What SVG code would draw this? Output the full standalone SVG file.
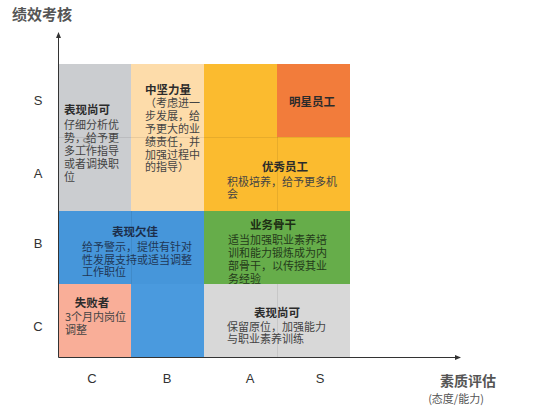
<svg xmlns="http://www.w3.org/2000/svg" width="540" height="410" viewBox="0 0 540 410">
<style>
text{font-family:"Noto Sans CJK SC","Noto Sans",sans-serif;}
.t{font-size:11.5px;font-weight:bold;fill:#2b2b2b;}
.b{font-size:11px;fill:#444;}
.ax{font-size:13px;fill:#333;font-family:"Liberation Sans","Noto Sans",sans-serif;}
.grid{stroke:#000;stroke-opacity:0.08;stroke-width:1;fill:none;}
.axis{stroke:#333;stroke-width:1;fill:none;}
</style>
<defs>
<marker id="arr" viewBox="0 0 6 6" refX="5" refY="3" markerWidth="6" markerHeight="6" orient="auto">
<path d="M0,0.5 L6,3 L0,5.5 z" fill="#333"/>
</marker>
</defs>
<rect width="540" height="410" fill="#fff"/>

<g id="cell-gray-top">
<rect x="59" y="64" width="72" height="147" fill="#cbcdd0"/>
<text class="t" x="64" y="114">表现尚可</text>
<text class="b" x="64" y="129">仔细分析优</text>
<text class="b" x="64" y="142">势，给予更</text>
<text class="b" x="64" y="155">多工作指导</text>
<text class="b" x="64" y="168">或者调换职</text>
<text class="b" x="64" y="181">位</text>
<text x="82" y="147" style="font-size:13px;fill:#666;fill-opacity:0.7;font-family:'Liberation Sans',sans-serif">S</text>
</g>

<g id="cell-lightorange">
<rect x="131" y="64" width="73" height="147" fill="#fddcaa"/>
<text class="t" x="145" y="94">中坚力量</text>
<text class="b" x="145" y="107">（考虑进一</text>
<text class="b" x="145" y="120">步发展，给</text>
<text class="b" x="145" y="133">予更大的业</text>
<text class="b" x="145" y="146">绩责任，并</text>
<text class="b" x="145" y="159">加强过程中</text>
<text class="b" x="145" y="171">的指导）</text>
</g>

<g id="cell-yellow">
<rect x="204" y="64" width="73" height="73" fill="#fbbb2f"/>
<rect x="204" y="137" width="146" height="74" fill="#fbbb2f"/>
<text class="t" x="285" y="171" text-anchor="middle">优秀员工</text>
<text class="b" x="227" y="186">积极培养，给予更多机</text>
<text class="b" x="227" y="198">会</text>
</g>

<g id="cell-star">
<rect x="277" y="64" width="73" height="73" fill="#f27c3b"/>
<text class="t" x="312" y="106" text-anchor="middle">明星员工</text>
</g>

<g id="cell-blue">
<rect x="59" y="211" width="145" height="73" fill="#4696da"/>
<rect x="131" y="284" width="73" height="73" fill="#4a9ade"/>
<text class="t" x="135" y="236" text-anchor="middle" style="fill:#1c2e4a">表现欠佳</text>
<text class="b" x="82" y="251" style="fill:#1f3656">给予警示，提供有针对</text>
<text class="b" x="82" y="264" style="fill:#1f3656">性发展支持或适当调整</text>
<text class="b" x="82" y="276" style="fill:#1f3656">工作职位</text>
</g>

<g id="cell-green">
<rect x="204" y="211" width="146" height="73" fill="#66ad4a"/>
<text class="t" x="273" y="229" text-anchor="middle" style="fill:#1d2e14">业务骨干</text>
<text class="b" x="228" y="244" style="fill:#243a1a">适当加强职业素养培</text>
<text class="b" x="228" y="257" style="fill:#243a1a">训和能力锻炼成为内</text>
<text class="b" x="228" y="270" style="fill:#243a1a">部骨干，以传授其业</text>
<text class="b" x="228" y="283" style="fill:#243a1a">务经验</text>
</g>

<g id="cell-salmon">
<rect x="59" y="284" width="72" height="73" fill="#f9ae98"/>
<text class="t" x="92" y="307" text-anchor="middle">失败者</text>
<text class="b" x="65" y="321">3个月内岗位</text>
<text class="b" x="65" y="334">调整</text>
</g>

<g id="cell-lightgray">
<rect x="204" y="284" width="146" height="73" fill="#d8d8d8"/>
<text class="t" x="277" y="317" text-anchor="middle">表现尚可</text>
<text class="b" x="227" y="331">保留原位，加强能力</text>
<text class="b" x="227" y="343">与职业素养训练</text>
</g>

<g id="connectors">
<path class="grid" d="M59,137.5 H350 M277.5,137 V211 M277.5,284 V357 M131.5,211 V284"/>
<line class="axis" x1="58.5" y1="357.5" x2="58.5" y2="33" marker-end="url(#arr)"/>
<line class="axis" x1="58.5" y1="357.5" x2="460" y2="357.5" marker-end="url(#arr)"/>
</g>

<g id="labels">
<text x="12" y="20" style="font-size:15px;fill:#555;font-weight:bold">绩效考核</text>
<text class="ax" x="38" y="105" text-anchor="middle">S</text>
<text class="ax" x="38" y="178" text-anchor="middle">A</text>
<text class="ax" x="38" y="248" text-anchor="middle">B</text>
<text class="ax" x="38" y="331" text-anchor="middle">C</text>
<text class="ax" x="92" y="383" text-anchor="middle">C</text>
<text class="ax" x="167" y="383" text-anchor="middle">B</text>
<text class="ax" x="250" y="383" text-anchor="middle">A</text>
<text class="ax" x="320" y="383" text-anchor="middle">S</text>
<text x="468" y="386" text-anchor="middle" style="font-size:14px;font-weight:bold;fill:#555">素质评估</text>
<text x="456" y="403" text-anchor="middle" style="font-size:11px;fill:#555">(态度/能力)</text>
</g>
</svg>
